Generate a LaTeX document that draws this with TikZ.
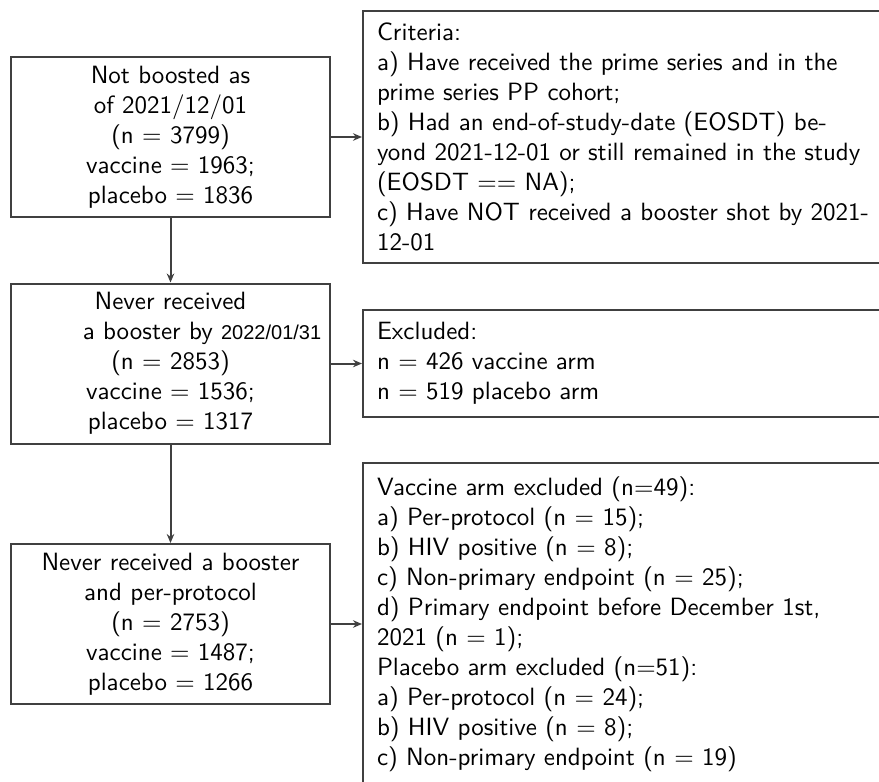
\documentclass[tikz,border=0pt]{standalone}
\usepackage{fontspec}
\newfontfamily\datefont{Liberation Sans}
\usetikzlibrary{arrows.meta}
\begin{document}
\begin{tikzpicture}[x=0.4pt,y=-0.4pt,
  box/.style={draw=black!75,line width=0.8pt,font=\sffamily,inner sep=0pt},
  leftbox/.style={box,minimum width=127.6pt,minimum height=64pt,align=center},
  rightbox/.style={box,anchor=west,inner xsep=5.6pt,text width=210pt,align=left},
  arr/.style={draw=black!75,line width=0.8pt,-{Stealth[length=3.6pt,width=3pt]}}]
\clip (0,0) rectangle (879,781);
\fill[white] (0,0) rectangle (879,781);
\node[leftbox] (b1) at (170.5,137) {Not boosted as\\of 2021/12/01\\(n $=$ 3799)\\vaccine $=$ 1963;\\placebo $=$ 1836};
\node[leftbox] (b2) at (170.5,363.5) {Never received\\\hspace*{25.2pt}a booster by {\datefont\fontsize{8}{12}\selectfont 2022/01/31}\\(n $=$ 2853)\\vaccine $=$ 1536;\\placebo $=$ 1317};
\node[leftbox] (b3) at (170.5,624) {Never received a booster\\and per-protocol\\(n $=$ 2753)\\vaccine $=$ 1487;\\placebo $=$ 1266};
\node[rightbox,minimum height=100.8pt] (c1) at (362,137) {Criteria:\\a) Have received the prime series and in the\\prime series PP cohort;\\b) Had an end-of-study-date (EOSDT) be-\\yond 2021-12-01 or still remained in the study\\(EOSDT $==$ NA);\\c) Have NOT received a booster shot by 2021-\\12-01};
\node[rightbox,minimum height=42.8pt] (c2) at (362,363.5) {Excluded:\\n $=$ 426 vaccine arm\\n $=$ 519 placebo arm};
\node[rightbox,minimum height=128.8pt] (c3) at (362,624) {Vaccine arm excluded (n$=$49):\\a) Per-protocol (n $=$ 15);\\b) HIV positive (n $=$ 8);\\c) Non-primary endpoint (n $=$ 25);\\d) Primary endpoint before December 1st,\\2021 (n $=$ 1);\\Placebo arm excluded (n$=$51):\\a) Per-protocol (n $=$ 24);\\b) HIV positive (n $=$ 8);\\c) Non-primary endpoint (n $=$ 19)};
\draw[arr] (b1.east) -- (c1.west);
\draw[arr] (b2.east) -- (c2.west);
\draw[arr] (b3.east) -- (c3.west);
\draw[arr] (b1.south) -- (b2.north);
\draw[arr] (b2.south) -- (b3.north);
\end{tikzpicture}
\end{document}
